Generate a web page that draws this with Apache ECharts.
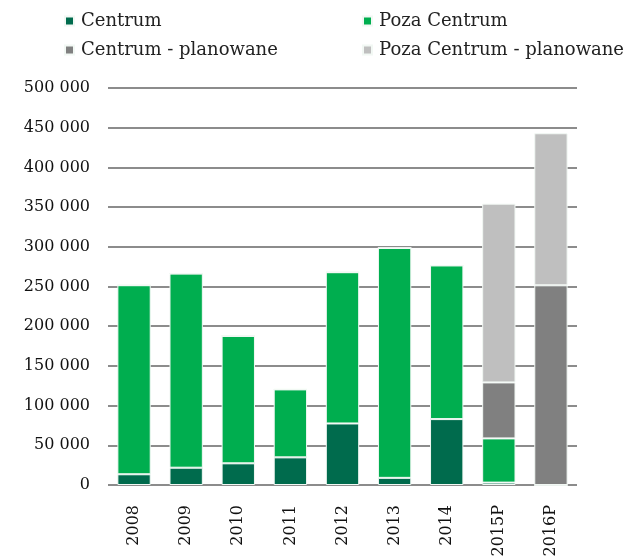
<!DOCTYPE html>
<html>
<head>
<meta charset="utf-8">
<script src="https://cdn.jsdelivr.net/npm/echarts@6/dist/echarts.min.js"></script>
<style>
  html, body { margin: 0; padding: 0; background: #fff; }
  #chart { width: 633px; height: 560px; }
</style>
</head>
<body>
<div id="chart"></div>
<script>
// lata
var years = ['2008', '2009', '2010', '2011', '2012', '2013', '2014', '2015P', '2016P'];
// wartosci serii
var centrum = [13500, 21800, 27300, 34800, 77500, 9000, 83000, 3000, 0];
var pozaCentrum = [238100, 244500, 160500, 85600, 190500, 289500, 193500, 55700, 0];
var centrumPlan = [0, 0, 0, 0, 0, 0, 0, 70500, 251500];
var pozaCentrumPlan = [0, 0, 0, 0, 0, 0, 0, 225100, 191500];

var font = 'DejaVu Serif';

// separator tysiecy - spacja
function fmt(v) {
	return String(v).replace(/\B(?=(\d{3})+(?!\d))/g, ' ');
}

function bar(name, data, color) {
	return {
		name: name,
		type: 'bar',
		stack: 'total',
		barWidth: '64%',
		data: data,
		itemStyle: {
			color: color,
			borderColor: '#f2f8f4',
			borderWidth: 1
		}
	};
}

var chart = echarts.init(document.getElementById('chart'));
var legendBase = {
	orient: 'vertical',
	top: 7,
	itemWidth: 9,
	itemHeight: 9,
	itemGap: 11,
	icon: 'rect',
	textStyle: { fontFamily: font, fontSize: 18, color: '#222', padding: [0, 0, 0, 2] }
};
chart.setOption({
	animation: false,
	legend: [
		Object.assign({}, legendBase, { left: 59, data: ['Centrum', 'Centrum - planowane'] }),
		Object.assign({}, legendBase, { left: 357, data: ['Poza Centrum', 'Poza Centrum - planowane'] })
	],
	grid: { left: 108, right: 56, top: 88, bottom: 75 },
	xAxis: {
		type: 'category',
		data: years,
		axisLine: { show: false },
		axisTick: { show: false },
		axisLabel: {
			rotate: 90,
			margin: 20,
			fontFamily: font,
			fontSize: 16,
			color: '#111'
		}
	},
	yAxis: {
		type: 'value',
		min: 0,
		max: 500000,
		interval: 50000,
		axisLine: { show: false },
		axisTick: { show: false },
		splitLine: { lineStyle: { color: '#8c8c8c', width: 2 } },
		axisLabel: {
			margin: 18,
			fontFamily: font,
			fontSize: 16,
			color: '#111',
			formatter: fmt
		}
	},
	series: [
		bar('Centrum', centrum, '#006b4d'),
		bar('Poza Centrum', pozaCentrum, '#00ae4f'),
		bar('Centrum - planowane', centrumPlan, '#808080'),
		bar('Poza Centrum - planowane', pozaCentrumPlan, '#bfbfbf')
	]
});
</script>
</body>
</html>
